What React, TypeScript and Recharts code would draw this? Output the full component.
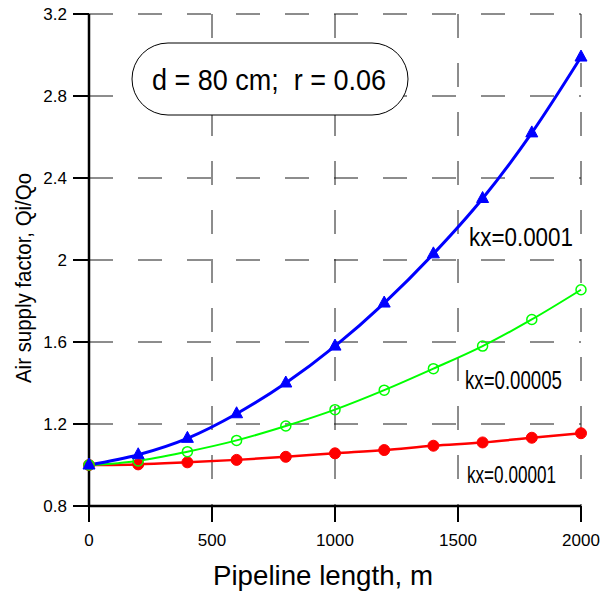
import { CartesianGrid, Line, LineChart, XAxis, YAxis } from "recharts";

const lengths = [0, 200, 400, 600, 800, 1000, 1200, 1400, 1600, 1800, 2000];
const kx0001 = [1.0, 1.05, 1.13, 1.25, 1.4, 1.58, 1.79, 2.03, 2.3, 2.62, 2.99];
const kx00005 = [1.0, 1.02, 1.065, 1.12, 1.19, 1.27, 1.365, 1.47, 1.58, 1.71, 1.855];
const kx00001 = [1.0, 1.003, 1.013, 1.025, 1.04, 1.057, 1.073, 1.094, 1.11, 1.133, 1.155];

const xTicks = [0, 500, 1000, 1500, 2000];
const yTicks = [0.8, 1.2, 1.6, 2, 2.4, 2.8, 3.2];

const FONT = '"Liberation Sans", Arial, sans-serif';

const rows = lengths.map((len, i) => ({
  len,
  a: kx0001[i],
  b: kx00005[i],
  c: kx00001[i]
}));

// filled triangle marker for the kx=0.0001 curve
function Triangle(props: any) {
  const { cx, cy } = props;
  if (cx == null || cy == null) return null;
  return <polygon points={`${cx},${cy - 7} ${cx - 6},${cy + 4} ${cx + 6},${cy + 4}`} fill="#0000ff" stroke="#0000ff" />;
}

export default function App() {
  return (
    <div style={{ position: "absolute", left: 0, top: 0, width: 601, height: 597, background: "#fff", fontFamily: FONT }}>
      <LineChart width={601} height={597} data={rows} margin={{ top: 14, right: 20, left: 0, bottom: 0 }}>
        <CartesianGrid stroke="#1a1a1a" strokeDasharray="24 25" strokeWidth={1} />
        <XAxis
          dataKey="len"
          type="number"
          domain={[0, 2000]}
          ticks={xTicks}
          height={91}
          tickSize={16}
          tickMargin={12}
          axisLine={{ stroke: "#000", strokeWidth: 2.5 }}
          tickLine={{ stroke: "#000", strokeWidth: 2 }}
          tick={{ fill: "#000", fontSize: 17, fontFamily: FONT }}
        />
        <XAxis
          xAxisId="top"
          orientation="top"
          type="number"
          domain={[0, 2000]}
          ticks={xTicks}
          height={0}
          mirror
          tickSize={16}
          tick={false}
          axisLine={{ stroke: "#000", strokeWidth: 2 }}
          tickLine={{ stroke: "#000", strokeWidth: 2 }}
        />
        <YAxis
          type="number"
          domain={[0.8, 3.2]}
          ticks={yTicks}
          width={89}
          tickSize={16}
          tickMargin={6}
          axisLine={{ stroke: "#000", strokeWidth: 2.5 }}
          tickLine={{ stroke: "#000", strokeWidth: 2 }}
          tick={{ fill: "#000", fontSize: 17, fontFamily: FONT }}
        />
        <YAxis
          yAxisId="right"
          orientation="right"
          type="number"
          domain={[0.8, 3.2]}
          ticks={yTicks}
          width={0}
          mirror
          tickSize={16}
          tick={false}
          axisLine={{ stroke: "#000", strokeWidth: 2 }}
          tickLine={{ stroke: "#000", strokeWidth: 2 }}
        />
        <Line
          dataKey="c"
          type="monotone"
          stroke="#ff0000"
          strokeWidth={2.5}
          dot={{ r: 5.5, fill: "#ff0000", stroke: "#ff0000", strokeWidth: 1 }}
          isAnimationActive={false}
        />
        <Line
          dataKey="b"
          type="monotone"
          stroke="#00ff00"
          strokeWidth={2}
          dot={{ r: 5, fill: "none", stroke: "#00ff00", strokeWidth: 1.5 }}
          isAnimationActive={false}
        />
        <Line
          dataKey="a"
          type="monotone"
          stroke="#0000ff"
          strokeWidth={3}
          dot={<Triangle />}
          isAnimationActive={false}
        />
      </LineChart>
      <svg width={601} height={597} style={{ position: "absolute", left: 0, top: 0, pointerEvents: "none" }}>
        <rect x={132} y={43} width={276} height={72} rx={36} ry={36} fill="#fff" stroke="#000" strokeWidth={1} />
        <text x={152} y={90} fontSize={29} fontFamily={FONT} textLength={234} lengthAdjust="spacingAndGlyphs" fill="#000">
          {"d = 80 cm;\u00a0\u00a0r = 0.06"}
        </text>
        <text x={469} y={246} fontSize={26} fontFamily={FONT} textLength={104} lengthAdjust="spacingAndGlyphs" fill="#000">
          kx=0.0001
        </text>
        <text x={465} y={389} fontSize={25} fontFamily={FONT} textLength={97} lengthAdjust="spacingAndGlyphs" fill="#000">
          kx=0.00005
        </text>
        <text x={467} y={483} fontSize={24} fontFamily={FONT} textLength={89} lengthAdjust="spacingAndGlyphs" fill="#000">
          kx=0.00001
        </text>
        <text x={213} y={585} fontSize={28} fontFamily={FONT} textLength={220} lengthAdjust="spacingAndGlyphs" fill="#000">
          Pipeline length, m
        </text>
        <text
          x={0}
          y={0}
          transform="translate(31, 383) rotate(-90)"
          fontSize={22}
          fontFamily={FONT}
          textLength={210}
          lengthAdjust="spacingAndGlyphs"
          fill="#000"
        >
          Air supply factor, Qi/Qo
        </text>
      </svg>
    </div>
  );
}
